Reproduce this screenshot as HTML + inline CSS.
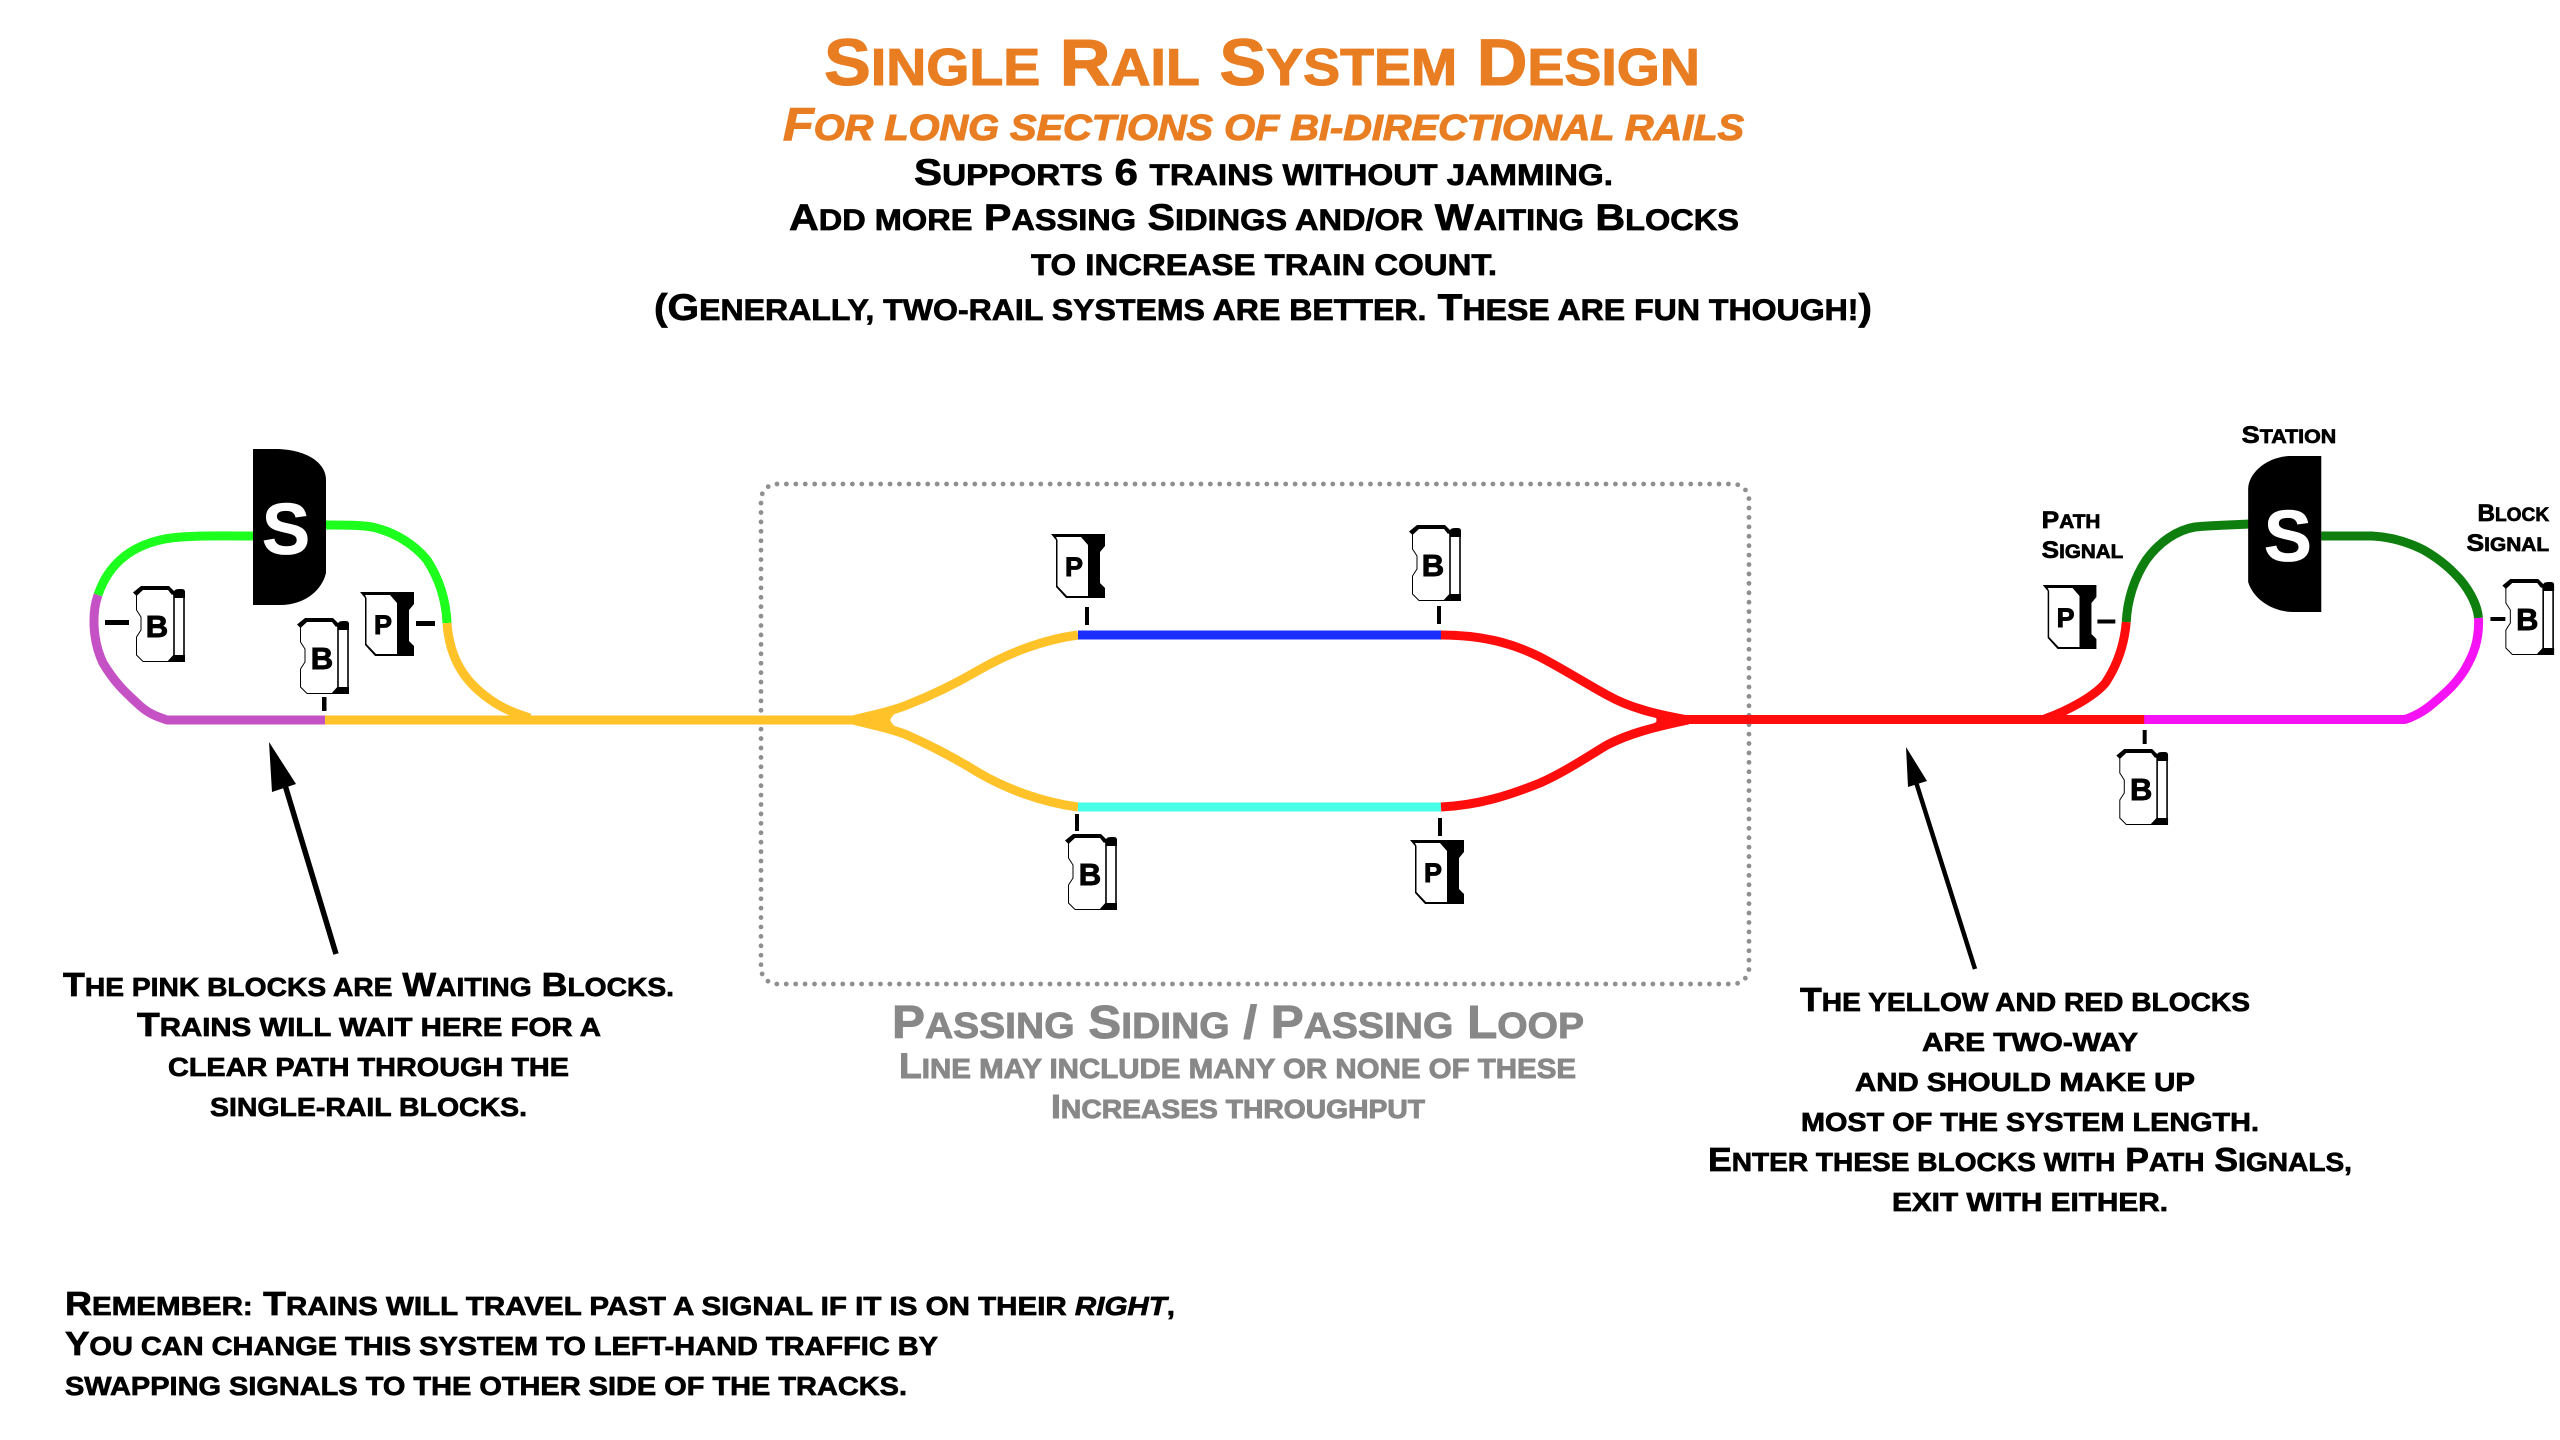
<!DOCTYPE html>
<html><head><meta charset="utf-8"><title>Single Rail System Design</title>
<style>
html,body{margin:0;padding:0;background:#fff}
svg{display:block}
text{font-family:"Liberation Sans",sans-serif;font-weight:700;text-transform:uppercase;fill:#000;stroke:#000;stroke-width:.7px}
.s{font-size:79%}
.o{fill:#e87d22;stroke:#e87d22;stroke-width:1.100px}
.g{fill:#888;stroke:#888;stroke-width:.9px}
.w{fill:#fff;stroke:#fff;stroke-width:.8px}
.l{stroke-width:.9px}
.t{fill:none;stroke-width:9;stroke-linejoin:round}
</style></head><body>
<svg width="2560" height="1440" viewBox="0 0 2560 1440" xmlns="http://www.w3.org/2000/svg">
<defs>
<g id="B">
<path d="M3.5 9 L9 3 H36 L41 9 V69 L35 75.5 H10 L3.5 69 V51 L8 44 V31 L3.5 24 Z" fill="#fff" stroke="#000" stroke-width="1"/>
<path d="M0 6.5 L8 0 H36 L42 6 L39 9 L35 4 H10 L3.5 10 Z" fill="#000"/>
<rect x="41" y="6" width="10" height="64" fill="#fff" stroke="#000" stroke-width="1.6"/>
<path d="M41 12 V6 Q41 3 46 3 H49 Q52 3 52 6 V12 Z" fill="#000"/>
<path d="M35 76 L41 69 H52 V76 Z" fill="#000"/>
</g>
<g id="P">
<path d="M0 0 H54 V12 L49 18 V49 L54 54 V64 H15 L5 53 V6 Z" fill="#000"/>
<path d="M5 3 H30 L37 11 V62 H16 L6.5 52 V6 Z" fill="#fff"/>
</g>
</defs>

<!-- heading -->
<text class="o" x="824" y="85" font-size="66" textLength="876" lengthAdjust="spacingAndGlyphs">S<tspan class="s">ingle</tspan> R<tspan class="s">ail</tspan> S<tspan class="s">ystem</tspan> D<tspan class="s">esign</tspan></text>
<text class="o" x="783" y="140" font-size="46" font-style="italic" textLength="961" lengthAdjust="spacingAndGlyphs">F<tspan class="s">or long sections of bi-directional rails</tspan></text>
<text x="914" y="185" font-size="37" textLength="699" lengthAdjust="spacingAndGlyphs">S<tspan class="s">upports</tspan> 6 <tspan class="s">trains without jamming.</tspan></text>
<text x="789" y="230" font-size="37" textLength="950" lengthAdjust="spacingAndGlyphs">A<tspan class="s">dd more</tspan> P<tspan class="s">assing</tspan> S<tspan class="s">idings and/or</tspan> W<tspan class="s">aiting</tspan> B<tspan class="s">locks</tspan></text>
<text x="1031" y="275" font-size="37" textLength="466" lengthAdjust="spacingAndGlyphs"><tspan class="s">to increase train count.</tspan></text>
<text x="654" y="320" font-size="37" textLength="1218" lengthAdjust="spacingAndGlyphs">(G<tspan class="s">enerally, two-rail systems are better.</tspan> T<tspan class="s">hese are fun though!</tspan>)</text>

<!-- dotted box -->
<rect x="761" y="484" width="988" height="500" rx="16" ry="16" fill="none" stroke="#8f8f8f" stroke-width="4.8" stroke-linecap="round" stroke-dasharray="0 9.42"/>

<!-- left loop -->
<path class="t" stroke="#1dff1d" d="M98 595 C108 565 130 547 160 540 C180 535 215 536 253 536"/>
<path class="t" stroke="#1dff1d" d="M326 525 C345 525 360 525 372 527 C395 532 415 545 427 560 C440 580 446 600 447 623"/>
<path class="t" stroke="#c552c5" d="M98 595 C92 612 92 640 103 663 C115 683 125 692 137 703 C148 714 158 717 167 720 H325"/>
<path class="t" stroke="#ffc229" d="M447 623 C449 650 458 672 478 690 C495 705 510 712 530 718"/>
<path class="t" stroke="#ffc229" d="M325 720 H856"/>
<!-- siding -->
<path class="t" stroke="#ffc229" d="M853 720 C868 716 890 712 907 705 C925 698 950 687 979 670 C1005 655 1040 640 1078 635"/>
<path class="t" stroke="#ffc229" d="M853 720 C868 724 890 728 907 735 C925 743 950 755 979 773 C1005 788 1040 802 1078 807"/>
<path d="M853 720 L896 712 L891 718 Q890 720 891 722 L896 728 Z" fill="#ffc229"/>
<path class="t" stroke="#1a2eff" d="M1078 635 H1441"/>
<path class="t" stroke="#48ffe8" d="M1078 807 H1441"/>
<path class="t" stroke="#ff0d0d" d="M1441 635 C1490 635 1520 647 1540 657 C1565 670 1590 686 1607 695 C1630 708 1655 714 1688 720"/>
<path class="t" stroke="#ff0d0d" d="M1441 807 C1480 805 1510 795 1540 783 C1565 772 1590 755 1607 745 C1630 733 1655 727 1688 720"/>
<path d="M1690 720 L1650 714 L1656 718 Q1657 720 1656 722 L1650 726 Z" fill="#ff0d0d"/>
<path class="t" stroke="#ff0d0d" d="M1685 719.500 H2140"/>

<g transform="translate(1980 0) scale(.995 1) translate(-1980 0)">
<!-- right loop -->
<path class="t" stroke="#ff0d0d" d="M2127 622 C2125 645 2118 665 2106 683 C2095 696 2070 710 2045 719"/>
<path class="t" stroke="#0e7f0e" d="M2127 622 C2128 600 2135 578 2147 560 C2160 542 2178 530 2196 527 C2215 525 2235 525 2250 524"/>
<path class="t" stroke="#0e7f0e" d="M2323 536 H2374 C2395 537 2412 543 2426 550 C2445 561 2455 571 2463 580 C2473 592 2480 606 2481 618"/>
<path class="t" stroke="#ff0d0d" d="M2040 719.500 H2146"/>
<path class="t" stroke="#f512f5" d="M2481 618 C2482 640 2476 655 2467 670 C2458 684 2449 692 2437 702 C2428 710 2418 716 2407 719.500 H2145"/>
<!-- right station -->
<path d="M2323 456 H2290 C2265 458 2249.500 475 2249.500 489 V582 C2255 600 2275 612 2295 612 H2323 Z" fill="#000"/>
<text class="w" x="2289.500" y="561" font-size="72" text-anchor="middle">S</text>
<g fill="#000">
<rect x="2098" y="619.500" width="18" height="4"/>
<rect x="2493" y="617" width="15" height="4"/>
<rect x="2143.500" y="730" width="4" height="14"/>
</g>
<use href="#P" x="2043" y="585"/><text class="l" x="2066" y="627" font-size="27" text-anchor="middle">P</text>
<use href="#B" x="2505" y="579"/><text class="l" x="2530" y="630" font-size="31" text-anchor="middle">B</text>
<use href="#B" x="2117" y="749"/><text class="l" x="2142" y="800" font-size="31" text-anchor="middle">B</text>
<text x="2243" y="443" font-size="24" textLength="95" lengthAdjust="spacingAndGlyphs">S<tspan class="s">tation</tspan></text>
<text x="2042" y="528" font-size="24" textLength="59" lengthAdjust="spacingAndGlyphs">P<tspan class="s">ath</tspan></text>
<text x="2042" y="558" font-size="24" textLength="82" lengthAdjust="spacingAndGlyphs">S<tspan class="s">ignal</tspan></text>
<text x="2480" y="521" font-size="24" textLength="72" lengthAdjust="spacingAndGlyphs">B<tspan class="s">lock</tspan></text>
<text x="2469" y="551" font-size="24" textLength="83" lengthAdjust="spacingAndGlyphs">S<tspan class="s">ignal</tspan></text>
</g>

<!-- left station -->
<path d="M253 449 H275 C305 449 326 462 326 480 V573 C322 590 305 605 280 605 H253 Z" fill="#000"/>
<text class="w" x="286" y="554" font-size="72" text-anchor="middle">S</text>

<!-- ticks -->
<g fill="#000">
<rect x="105" y="620" width="24" height="5"/>
<rect x="416" y="621" width="19" height="5"/>
<rect x="322" y="697" width="4.500" height="14"/>
<rect x="1085" y="607" width="4" height="18"/>
<rect x="1437" y="606" width="4" height="18"/>
<rect x="1075" y="814" width="4" height="17"/>
<rect x="1438" y="818" width="4" height="18"/>
</g>

<!-- signals -->
<use href="#B" x="133" y="586"/><text class="l" x="157" y="637" font-size="31" text-anchor="middle">B</text>
<use href="#B" x="297" y="618"/><text class="l" x="322" y="669" font-size="31" text-anchor="middle">B</text>
<use href="#P" x="360" y="592"/><text class="l" x="383" y="634" font-size="27" text-anchor="middle">P</text>
<use href="#P" x="1051" y="534"/><text class="l" x="1074" y="576" font-size="27" text-anchor="middle">P</text>
<use href="#B" x="1409" y="525"/><text class="l" x="1433" y="576" font-size="31" text-anchor="middle">B</text>
<use href="#B" x="1065" y="834"/><text class="l" x="1090" y="885" font-size="31" text-anchor="middle">B</text>
<use href="#P" x="1410" y="840"/><text class="l" x="1433" y="882" font-size="27" text-anchor="middle">P</text>

<!-- arrows -->
<line x1="336" y1="954" x2="285" y2="785" stroke="#000" stroke-width="5.500"/>
<path d="M269 742 L296 784 L272 792 Z" fill="#000"/>
<line x1="1975" y1="969" x2="1916" y2="782" stroke="#000" stroke-width="4.500"/>
<path d="M1906 747 L1927 781 L1908 787 Z" fill="#000"/>

<!-- left note -->
<text x="63" y="996" font-size="33" textLength="611" lengthAdjust="spacingAndGlyphs">T<tspan class="s">he pink blocks are</tspan> W<tspan class="s">aiting</tspan> B<tspan class="s">locks.</tspan></text>
<text x="137" y="1036" font-size="33" textLength="464" lengthAdjust="spacingAndGlyphs">T<tspan class="s">rains will wait here for a</tspan></text>
<text x="168" y="1076" font-size="33" textLength="401" lengthAdjust="spacingAndGlyphs"><tspan class="s">clear path through the</tspan></text>
<text x="210" y="1116" font-size="33" textLength="317" lengthAdjust="spacingAndGlyphs"><tspan class="s">single-rail blocks.</tspan></text>

<!-- passing siding -->
<text class="g" x="892" y="1038" font-size="46" textLength="692" lengthAdjust="spacingAndGlyphs">P<tspan class="s">assing</tspan> S<tspan class="s">iding</tspan> / P<tspan class="s">assing</tspan> L<tspan class="s">oop</tspan></text>
<text class="g" x="899" y="1078" font-size="35" textLength="677" lengthAdjust="spacingAndGlyphs">L<tspan class="s">ine may include many or none of these</tspan></text>
<text class="g" x="1051" y="1118" font-size="33" textLength="374" lengthAdjust="spacingAndGlyphs">I<tspan class="s">ncreases throughput</tspan></text>

<!-- right note -->
<text x="1800" y="1011" font-size="33" textLength="450" lengthAdjust="spacingAndGlyphs">T<tspan class="s">he yellow and red blocks</tspan></text>
<text x="1922" y="1051" font-size="33" textLength="216" lengthAdjust="spacingAndGlyphs"><tspan class="s">are two-way</tspan></text>
<text x="1855" y="1091" font-size="33" textLength="340" lengthAdjust="spacingAndGlyphs"><tspan class="s">and should make up</tspan></text>
<text x="1801" y="1131" font-size="33" textLength="458" lengthAdjust="spacingAndGlyphs"><tspan class="s">most of the system length.</tspan></text>
<text x="1708" y="1171" font-size="33" textLength="644" lengthAdjust="spacingAndGlyphs">E<tspan class="s">nter these blocks with</tspan> P<tspan class="s">ath</tspan> S<tspan class="s">ignals,</tspan></text>
<text x="1892" y="1211" font-size="33" textLength="276" lengthAdjust="spacingAndGlyphs"><tspan class="s">exit with either.</tspan></text>

<!-- bottom note -->
<text x="65" y="1315" font-size="33" textLength="1110" lengthAdjust="spacingAndGlyphs">R<tspan class="s">emember:</tspan> T<tspan class="s">rains will travel past a signal if it is on their </tspan><tspan class="s" font-style="italic">right</tspan><tspan class="s">,</tspan></text>
<text x="65" y="1355" font-size="33" textLength="873" lengthAdjust="spacingAndGlyphs">Y<tspan class="s">ou can change this system to left-hand traffic by</tspan></text>
<text x="65" y="1395" font-size="33" textLength="842" lengthAdjust="spacingAndGlyphs"><tspan class="s">swapping signals to the other side of the tracks.</tspan></text>
</svg>
</body></html>
